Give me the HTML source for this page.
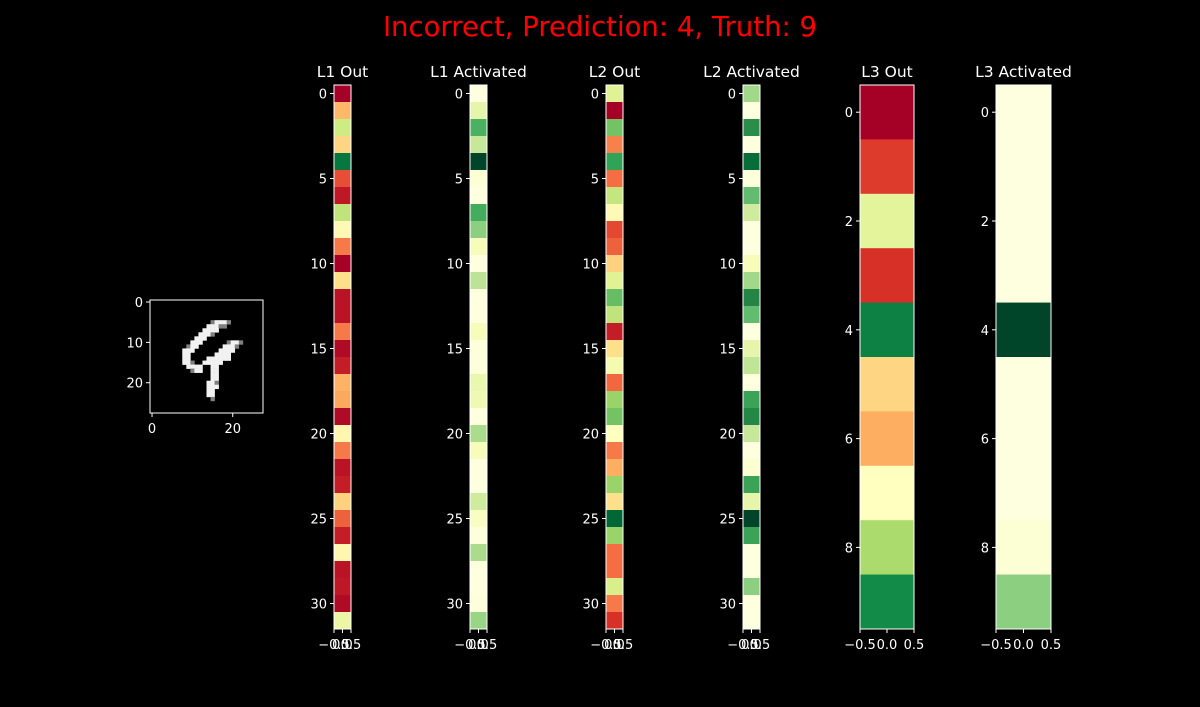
<!DOCTYPE html>
<html><head><meta charset="utf-8">
<style>
html,body{margin:0;padding:0;background:#000;}
svg{display:block;font-family:"DejaVu Sans","Liberation Sans",sans-serif;}
</style></head>
<body>
<svg id="chart" width="1200" height="707" viewBox="0 0 1200 707" xmlns="http://www.w3.org/2000/svg">
<text x="600" y="36" fill="#ff0000" font-size="27.5" text-anchor="middle">Incorrect, Prediction: 4, Truth: 9</text>
</svg>
<script>
// ---- data ----
const l1Out = [0.0,0.32,0.62,0.38,0.97,0.15,0.05,0.65,0.48,0.22,0.0,0.4,0.04,0.04,0.22,0.02,0.06,0.31,0.29,0.02,0.47,0.22,0.04,0.06,0.37,0.18,0.06,0.47,0.04,0.05,0.02,0.55];
const l1Act = [0.02,0.2,0.6,0.3,1.0,0.05,0.02,0.62,0.45,0.12,0.02,0.33,0.02,0.02,0.12,0.03,0.03,0.18,0.16,0.02,0.38,0.12,0.02,0.02,0.28,0.1,0.03,0.38,0.02,0.02,0.03,0.42];
const l2Out = [0.58,0.0,0.78,0.23,0.87,0.2,0.64,0.48,0.14,0.18,0.37,0.58,0.8,0.65,0.06,0.4,0.53,0.19,0.72,0.78,0.5,0.22,0.3,0.72,0.4,1.0,0.72,0.2,0.2,0.6,0.22,0.1];
const l2Act = [0.4,0.02,0.72,0.02,0.85,0.03,0.55,0.28,0.02,0.02,0.12,0.4,0.75,0.55,0.02,0.2,0.32,0.02,0.65,0.74,0.3,0.02,0.06,0.65,0.2,1.0,0.65,0.02,0.02,0.45,0.02,0.02];
const l3Out = [0.0,0.12,0.57,0.1,0.95,0.38,0.3,0.5,0.69,0.93];
const l3Act = [0.02,0.02,0.02,0.02,1.0,0.02,0.02,0.02,0.05,0.45];
const yTicks32 = [0,5,10,15,20,25,30];
const yTicks10 = [0,2,4,6,8];
const xTicks = [-0.5,0.0,0.5];
const xTickLabels = ["\u22120.5","0.0","0.5"];
const imgTicks = [0,10,20];
const digitRows = [
"","","","","",
"...............+###+",
"..............###++",
".............####",
"............###+",
"...........###",
"..........###......+##+",
".........+##......###+",
"........###......####",
"........##......####",
"........##....######",
"........##+..#####",
".........####..##",
"..........+##..##",
"...............##",
"...............##",
"..............##+",
"..............###",
"..............##",
"..............##",
"...............+",
"","",""];

const RdYlGn=["#a50026","#d73027","#f46d43","#fdae61","#fee08b","#ffffbf","#d9ef8b","#a6d96a","#66bd63","#1a9850","#006837"];
const YlGn=["#ffffe5","#f7fcb9","#d9f0a3","#addd8e","#78c679","#41ab5d","#238443","#006837","#004529"];
function hex(c){return [1,3,5].map(i=>parseInt(c.substr(i,2),16));}
function cmap(stops,v){v=Math.max(0,Math.min(1,v));const p=v*(stops.length-1);const i=Math.min(Math.floor(p),stops.length-2);const t=p-i;const a=hex(stops[i]),b=hex(stops[i+1]);return `rgb(${a.map((x,k)=>Math.round(x+(b[k]-x)*t)).join(",")})`;}

const svg=document.getElementById('chart');
const NS="http://www.w3.org/2000/svg";
function el(tag,attrs,parent){const e=document.createElementNS(NS,tag);for(const k in attrs)e.setAttribute(k,attrs[k]);(parent||svg).appendChild(e);return e;}

const yTop=85,yBot=629;
function panel(name,title,vals,stops,x0,w,yt){
  const g=el('g',{});
  
  
  const n=vals.length;const h=(yBot-yTop)/n;
  const yS=v=>yTop+(v+0.5)*h;
  const xS=v=>x0+(v+0.5)*w;
  vals.forEach((v,i)=>{
    const r=el('rect',{x:x0,y:yTop+i*h,width:w,height:h+0.3,fill:cmap(stops,v)},g);
    
    
  });
  const fr=el('rect',{x:x0,y:yTop,width:w,height:yBot-yTop,fill:'none',stroke:'#fff','stroke-width':1},g);
  
  
  yt.forEach(t=>{
    const y=yS(t);
    el('line',{x1:x0-4,x2:x0,y1:y,y2:y,stroke:'#fff'},g);
    const tx=el('text',{x:x0-7,y:y+5,fill:'#fff','font-size':13,'text-anchor':'end'},g);
    tx.textContent=t;
    
    
  });
  xTicks.forEach((t,i)=>{
    const x=xS(t);
    el('line',{x1:x,x2:x,y1:yBot,y2:yBot+4,stroke:'#fff'},g);
    const tx=el('text',{x:x,y:yBot+20,fill:'#fff','font-size':13,'text-anchor':'middle'},g);
    tx.textContent=xTickLabels[i];
    
    
  });
  const tt=el('text',{x:x0+w/2,y:77,fill:'#fff','font-size':15.5,'text-anchor':'middle'},g);
  tt.textContent=title;
  
  
}
panel('l1-out','L1 Out',l1Out,RdYlGn,334,17,yTicks32);
panel('l1-activated','L1 Activated',l1Act,YlGn,470,17,yTicks32);
panel('l2-out','L2 Out',l2Out,RdYlGn,606,17,yTicks32);
panel('l2-activated','L2 Activated',l2Act,YlGn,743,17,yTicks32);
panel('l3-out','L3 Out',l3Out,RdYlGn,860,54,yTicks10);
panel('l3-activated','L3 Activated',l3Act,YlGn,996,55,yTicks10);

// input image
(function(){
  const x0=150,y0=300,s=113/28;
  const g=el('g',{});
  
  
  el('rect',{x:x0,y:y0,width:113,height:113,fill:'#000'},g);
  digitRows.forEach((row,r)=>{
    for(let c=0;c<row.length;c++){
      const ch=row[c]; if(ch==='.')continue;
      const px=el('rect',{x:x0+c*s,y:y0+r*s,width:s+0.3,height:s+0.3,fill:ch==='#'?'#f2f2f2':'#808080'},g);
      
      
    }
  });
  el('rect',{x:x0,y:y0,width:113,height:113,fill:'none',stroke:'#fff'},g);
  imgTicks.forEach(t=>{
    const y=y0+(t+0.5)*s, x=x0+(t+0.5)*s;
    el('line',{x1:x0-4,x2:x0,y1:y,y2:y,stroke:'#fff'},g);
    const ty=el('text',{x:x0-7,y:y+5,fill:'#fff','font-size':13,'text-anchor':'end'},g);
    ty.textContent=t;
    
    
    if(t!==10){
      el('line',{x1:x,x2:x,y1:y0+113,y2:y0+117,stroke:'#fff'},g);
      const tx=el('text',{x:x,y:y0+133,fill:'#fff','font-size':13,'text-anchor':'middle'},g);
      tx.textContent=t;
      
      
    }
  });
})();
</script>
</body></html>
